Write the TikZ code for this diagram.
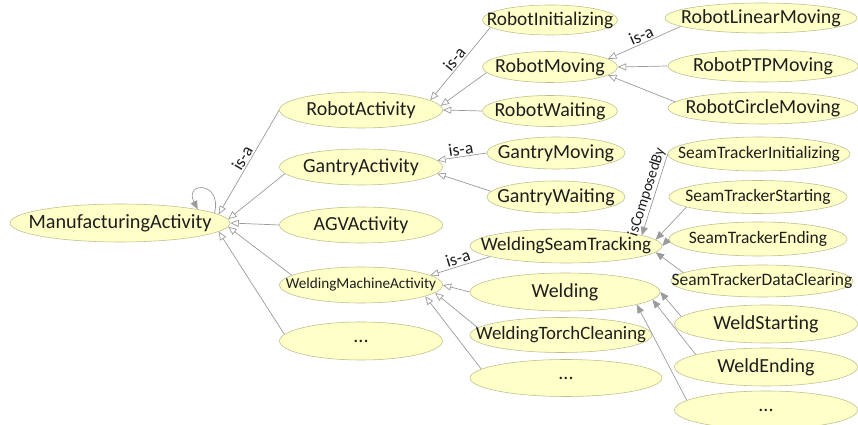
\documentclass[tikz,border=0pt]{standalone}
\usepackage{fontspec}
\setmainfont{Carlito}
\usetikzlibrary{shapes.geometric,arrows.meta}
\definecolor{actfill}{RGB}{255,255,200}
\definecolor{actline}{RGB}{190,190,140}
\definecolor{edgegray}{RGB}{155,155,155}
\definecolor{txt}{RGB}{30,30,30}
\begin{document}
\begin{tikzpicture}[x=0.025cm,y=-0.025cm]
      \tikzset{act/.style n args={3}{ellipse, draw=actline, fill=actfill, text=txt, inner sep=0pt,
          minimum width=#1*0.025cm, minimum height=#2*0.025cm, font=\fontsize{#3}{#3}\selectfont,
          execute at begin node={\hbox to 0pt\bgroup\hss}, execute at end node={\hss\egroup}},
        isa/.style={color=edgegray, line width=.5pt, -{Triangle[open, length=6pt, width=5pt]}},
        comp/.style={color=edgegray, line width=.5pt, -{Triangle[length=6pt, width=5pt]}},
        rel/.style={sloped, above, inner sep=1pt, text=txt, font=\fontsize{#1}{#1}\selectfont},
        rel/.default=12.5}
      \useasboundingbox (0,0) rectangle (858,425);
%% Activities
      	\node[act={220}{38}{14.4}] (MA) at (120,223) {ManufacturingActivity};
      	\node[act={163}{36}{14.2}] (RA) at (361,110) {RobotActivity};
      	\node[act={163}{36}{14.2}] (GA) at (361,167) {GantryActivity};
      	\node[act={163}{36}{14.2}] (AGV) at (361,225) {AGVActivity};
      	\node[act={163}{36}{10.8}] (WMA) at (361,285) {WeldingMachineActivity};
      	\node[act={163}{38}{14.2}] (D1) at (361,341) {...};
%% Sub activities
      	\node[act={135}{30}{13.7}] (RI) at (550,20) {RobotInitializing};
      	\node[act={135}{31}{14.2}] (RM) at (550,67) {RobotMoving};
      	\node[act={135}{31}{14.2}] (RW) at (550,111) {RobotWaiting};
      	\node[act={138}{32}{14.2}] (GM) at (556,153) {GantryMoving};
      	\node[act={138}{32}{14.2}] (GW) at (556,197) {GantryWaiting};
      	\node[act={192}{34}{13.6}] (WST) at (566,246) {WeldingSeamTracking};
      	\node[act={190}{38}{14.2}] (W) at (565,292) {Welding};
      	\node[act={182}{35}{13.4}] (WTC) at (561,335) {WeldingTorchCleaning};
      	\node[act={192}{37}{14.2}] (D2) at (566,378) {...};
%% Sub-sub activities
      	\node[act={192}{30}{14.2}] (RLM) at (761,18) {RobotLinearMoving};
      	\node[act={190}{32}{14.2}] (RPTP) at (763,66) {RobotPTPMoving};
      	\node[act={190}{32}{14.2}] (RCM) at (763,108) {RobotCircleMoving};
      	\node[act={182}{34}{12.4}] (STI) at (759,154) {SeamTrackerInitializing};
      	\node[act={178}{33}{12.4}] (STS) at (758,197) {SeamTrackerStarting};
      	\node[act={178}{34}{12.4}] (STE) at (758,239) {SeamTrackerEnding};
      	\node[act={182}{32}{12.4}] (STDC) at (762,281) {SeamTrackerDataClearing};
      	\node[act={183}{38}{14.2}] (WS) at (766,324) {WeldStarting};
      	\node[act={183}{38}{14.2}] (WE) at (766,367) {WeldEnding};
      	\node[act={183}{38}{14.2}] (D3) at (766,410) {...};
%% is-a edges
		\path[isa] (RA.west) edge node[rel] {is-a} (MA.5);
		\path[isa] (GA.185) edge (MA.2.5);
		\path[isa] (AGV.west) edge (MA.east);
		\path[isa] (WMA.172) edge (MA.-2.5);
		\path[isa] (D1.175) edge (MA.-5);
		\path[isa] (RI.187) edge node[rel] {is-a} (RA.8);
		\path[isa] (RM.185) edge (RA.3);
		\path[isa] (RW.west) edge (RA.east);
		\path[isa] (GM.west) edge node[rel] {is-a} (GA.5);
		\path[isa] (GW.175) edge (GA.-5);
		\path[isa] (WST.188) edge node[rel] {is-a} (WMA.8);
		\path[isa] (W.west) edge (WMA.east);
		\path[isa] (WTC.175) edge (WMA.-6);
		\path[isa] (D2.174) edge (WMA.-10);
		\path[isa] (RLM.186) edge node[rel] {is-a} (RM.8);
		\path[isa] (RPTP.west) edge (RM.east);
		\path[isa] (RCM.176) edge (RM.-8);
%% isComposedBy edges
		\path[comp] (STI.west) edge node[rel=11] {isComposedBy} (WST.8);
		\path[comp] (STS.188) edge (WST.4);
		\path[comp] (STE.west) edge (WST.east);
		\path[comp] (STDC.174) edge (WST.-4);
		\path[comp] (WS.175) edge (W.east);
		\path[comp] (WE.170) edge (W.-5);
		\path[comp] (D3.173) edge (W.-10);
		\draw[comp] (MA.6) .. controls +(8,-32) and +(-14,-28) .. (MA.10);
	\end{tikzpicture}
\end{document}
